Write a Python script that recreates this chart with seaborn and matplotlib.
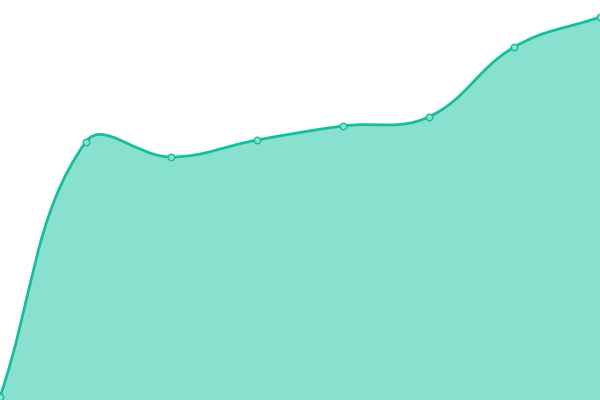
import numpy as np
import pandas as pd
import seaborn as sns
import matplotlib
matplotlib.use("Agg")
import matplotlib.pyplot as plt
from matplotlib.path import Path
from matplotlib.patches import PathPatch

sns.set_style("white")

# Data
x_vals = [0, 1, 2, 3, 4, 5, 6, 7]
y_vals = [3, 258, 243, 260, 274, 283, 353, 383]

line_color = "#1abc9c"
fill_color = "#88e0cf"
tension = 0.4

df = pd.DataFrame({"x": x_vals, "y": y_vals})

fig = plt.figure(figsize=(6, 4), dpi=100)
ax = fig.add_axes([0, 0, 1, 1])
ax.set_xlim(0, 7)
ax.set_ylim(0, 400)

# smooth curve: distance-weighted spline control points, computed in pixel space
sx = 600 / 7
pts = df[["x", "y"]].to_numpy(dtype=float)
px = pts * np.array([sx, 1.0])
n = len(px)
ctrl_prev, ctrl_next = [], []
for i in range(n):
    prev = px[i - 1] if i > 0 else px[i]
    cur = px[i]
    nxt = px[i + 1] if i < n - 1 else px[i]
    d01 = np.hypot(*(cur - prev))
    d12 = np.hypot(*(nxt - cur))
    tot = d01 + d12
    s01 = d01 / tot if tot else 0
    s12 = d12 / tot if tot else 0
    ctrl_prev.append(cur - tension * s01 * (nxt - prev))
    ctrl_next.append(cur + tension * s12 * (nxt - prev))

to_data = lambda p: (p[0] / sx, p[1])
verts = [to_data(px[0])]
codes = [Path.MOVETO]
for i in range(n - 1):
    verts += [to_data(ctrl_next[i]), to_data(ctrl_prev[i + 1]), to_data(px[i + 1])]
    codes += [Path.CURVE4] * 3

line_path = Path(verts, codes)
fill_path = Path(verts + [(pts[-1][0], 0), (pts[0][0], 0), tuple(pts[0])],
                 codes + [Path.LINETO, Path.LINETO, Path.CLOSEPOLY])

ax.add_patch(PathPatch(fill_path, facecolor=fill_color, edgecolor="none", zorder=1))
ax.add_patch(PathPatch(line_path, facecolor="none", edgecolor=line_color, lw=2, zorder=2))

sns.scatterplot(data=df, x="x", y="y", ax=ax, s=22, color=fill_color,
                edgecolor=line_color, linewidth=1, zorder=3, clip_on=False)

ax.set_axis_off()

plt.savefig("out.png", dpi=100)
plt.close()
